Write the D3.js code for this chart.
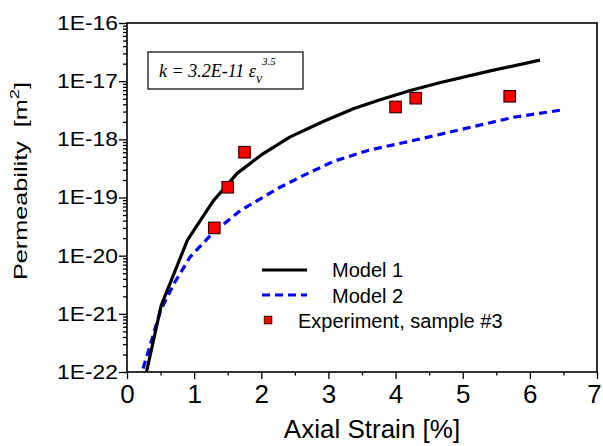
<!DOCTYPE html>
<html>
<head>
<meta charset="utf-8">
<script src="https://cdn.jsdelivr.net/npm/d3@7"></script>
<style>
  html, body { margin: 0; padding: 0; background: #fff; }
  svg { display: block; }
  text { font-family: "Liberation Sans", Arial, sans-serif; fill: #000; }
</style>
</head>
<body>
<svg id="chart" width="603" height="446"></svg>
<script>
// ---- data ----
const model1Strain = [0.29, 0.51, 0.90, 1.29, 1.64, 2.00, 2.43, 2.93, 3.38, 3.77, 4.22, 4.67, 5.41, 6.15];
const model1Perm   = [1e-22, 1.4e-21, 1.85e-20, 8.9e-20, 2.6e-19, 5.4e-19, 1.1e-18, 2.05e-18, 3.4e-18, 4.8e-18, 6.9e-18, 9.5e-18, 1.5e-17, 2.3e-17];

const model2Strain = [0.24, 0.50, 0.70, 0.94, 1.27, 1.69, 2.28, 2.63, 3.08, 3.60, 4.20, 4.77, 5.76, 6.48];
const model2Perm   = [1.15e-22, 1.15e-21, 3.3e-21, 9.5e-21, 2.4e-20, 6.0e-20, 1.5e-19, 2.4e-19, 4.2e-19, 6.5e-19, 9.2e-19, 1.3e-18, 2.4e-18, 3.2e-18];

const expStrain = [1.30, 1.50, 1.75, 4.00, 4.30, 5.70];
const expPerm   = [3.0e-20, 1.5e-19, 6.0e-19, 3.6e-18, 5.1e-18, 5.5e-18];

const xTicks = [0, 1, 2, 3, 4, 5, 6, 7];
const xMinorTicks = [0.5, 1.5, 2.5, 3.5, 4.5, 5.5, 6.5];
const yTicks = [1e-22, 1e-21, 1e-20, 1e-19, 1e-18, 1e-17, 1e-16];
const yTickLabels = ["1E-22", "1E-21", "1E-20", "1E-19", "1E-18", "1E-17", "1E-16"];

const seriesNames = ["Model 1", "Model 2", "Experiment, sample #3"];
const xTitle = "Axial Strain [%]";
const yTitle = "Permeability  [m";
const formulaMain = "k = 3.2E-11 ε";
const formulaSub = "v";
const formulaSup = "3.5";

// ---- layout ----
const L = 127, R = 597, T = 23, B = 372;
const svg = d3.select("#chart");
const x = d3.scaleLinear().domain([0, 7]).range([L, R]);
const y = d3.scaleLog().domain([1e-22, 1e-16]).range([B, T]);

// minor y ticks
const yMinor = [];
for (let e = -22; e < -16; e++) for (let m = 2; m <= 9; m++) yMinor.push(m * Math.pow(10, e));

// y axis
const yAxisMinor = svg.append("g").attr("transform", `translate(${L},0)`)
  .call(d3.axisLeft(y).tickValues(yMinor).tickSize(4).tickFormat(""));
const yAxis = svg.append("g").attr("transform", `translate(${L},0)`)
  .call(d3.axisLeft(y).tickValues(yTicks).tickSize(8).tickPadding(1)
    .tickFormat((d, i) => yTickLabels[i]));
yAxis.selectAll("text").style("font-size", "20px")
  .attr("textLength", 61).attr("lengthAdjust", "spacingAndGlyphs");

// x axis
const xAxisMinor = svg.append("g").attr("transform", `translate(0,${B})`)
  .call(d3.axisBottom(x).tickValues(xMinorTicks).tickSize(3.5).tickFormat(""));
const xAxis = svg.append("g").attr("transform", `translate(0,${B})`)
  .call(d3.axisBottom(x).tickValues(xTicks).tickSize(7).tickPadding(6).tickFormat(d3.format("d")));
xAxis.selectAll("text").style("font-size", "26px")
  .attr("dx", d => d === 7 ? -3 : 0);

[yAxis, yAxisMinor, xAxis, xAxisMinor].forEach(g => {
  g.select(".domain").remove();
  g.selectAll("line").attr("stroke", "#000").attr("stroke-width", 1.3);
});

// frame
svg.append("rect").attr("x", L).attr("y", T).attr("width", R - L).attr("height", B - T)
  .attr("fill", "none").attr("stroke", "#000").attr("stroke-width", 1.6);

// lines
const line = d3.line().x(d => x(d[0])).y(d => y(d[1]));
const m1 = model1Strain.map((s, i) => [s, model1Perm[i]]);
const m2 = model2Strain.map((s, i) => [s, model2Perm[i]]);

svg.append("path").datum(m2).attr("d", line)
  .attr("fill", "none").attr("stroke", "#0000ff").attr("stroke-width", 3.2)
  .attr("stroke-dasharray", "8,5");
svg.append("path").datum(m1).attr("d", line)
  .attr("fill", "none").attr("stroke", "#000").attr("stroke-width", 3.2)
  .attr("stroke-linejoin", "round");

// experiment squares
const sq = 11.5;
svg.selectAll("rect.exp").data(expStrain.map((s, i) => [s, expPerm[i]])).enter()
  .append("rect").attr("class", "exp")
  .attr("x", d => x(d[0]) - sq / 2).attr("y", d => y(d[1]) - sq / 2)
  .attr("width", sq).attr("height", sq)
  .attr("fill", "#ff0000").attr("stroke", "#3a0000").attr("stroke-width", 1.2);

// axis titles
svg.append("text").attr("x", 372).attr("y", 438).attr("text-anchor", "middle")
  .style("font-size", "26px").text(xTitle);

const yt = svg.append("text").attr("transform", "translate(27,181) rotate(-90)")
  .attr("text-anchor", "middle").style("font-size", "18px")
  .attr("xml:space", "preserve").style("white-space", "pre")
  .attr("textLength", 198).attr("lengthAdjust", "spacingAndGlyphs");
yt.append("tspan").text(yTitle);
yt.append("tspan").attr("dy", -8).style("font-size", "13px").text("2");
yt.append("tspan").attr("dy", 8).text("]");

// formula box
svg.append("rect").attr("x", 148).attr("y", 52).attr("width", 155).attr("height", 37)
  .attr("fill", "#fff").attr("stroke", "#000").attr("stroke-width", 1.2);
const ft = svg.append("text").attr("x", 159).attr("y", 77)
  .style("font-family", "'Liberation Serif', 'Times New Roman', serif")
  .style("font-style", "italic").style("font-size", "18px");
ft.append("tspan").text(formulaMain);
ft.append("tspan").attr("dy", 6).style("font-size", "14px").text(formulaSub);
ft.append("tspan").attr("dy", -18).attr("dx", 0).style("font-size", "11px").text(formulaSup);

// legend
const lg = svg.append("g");
const lx1 = 262, lx2 = 307;
lg.append("line").attr("x1", lx1).attr("x2", lx2).attr("y1", 270).attr("y2", 270)
  .attr("stroke", "#000").attr("stroke-width", 3.2);
lg.append("line").attr("x1", lx1).attr("x2", lx2).attr("y1", 295).attr("y2", 295)
  .attr("stroke", "#0000ff").attr("stroke-width", 3.2).attr("stroke-dasharray", "8,5");
lg.append("rect").attr("x", 264.3).attr("y", 316.3).attr("width", 7.5).attr("height", 7.5)
  .attr("fill", "#ff0000").attr("stroke", "#3a0000").attr("stroke-width", 1);
lg.append("text").attr("x", 332).attr("y", 277).style("font-size", "20px").text(seriesNames[0]);
lg.append("text").attr("x", 332).attr("y", 303).style("font-size", "20px").text(seriesNames[1]);
lg.append("text").attr("x", 298).attr("y", 328).style("font-size", "20px").text(seriesNames[2]);
</script>
</body>
</html>
